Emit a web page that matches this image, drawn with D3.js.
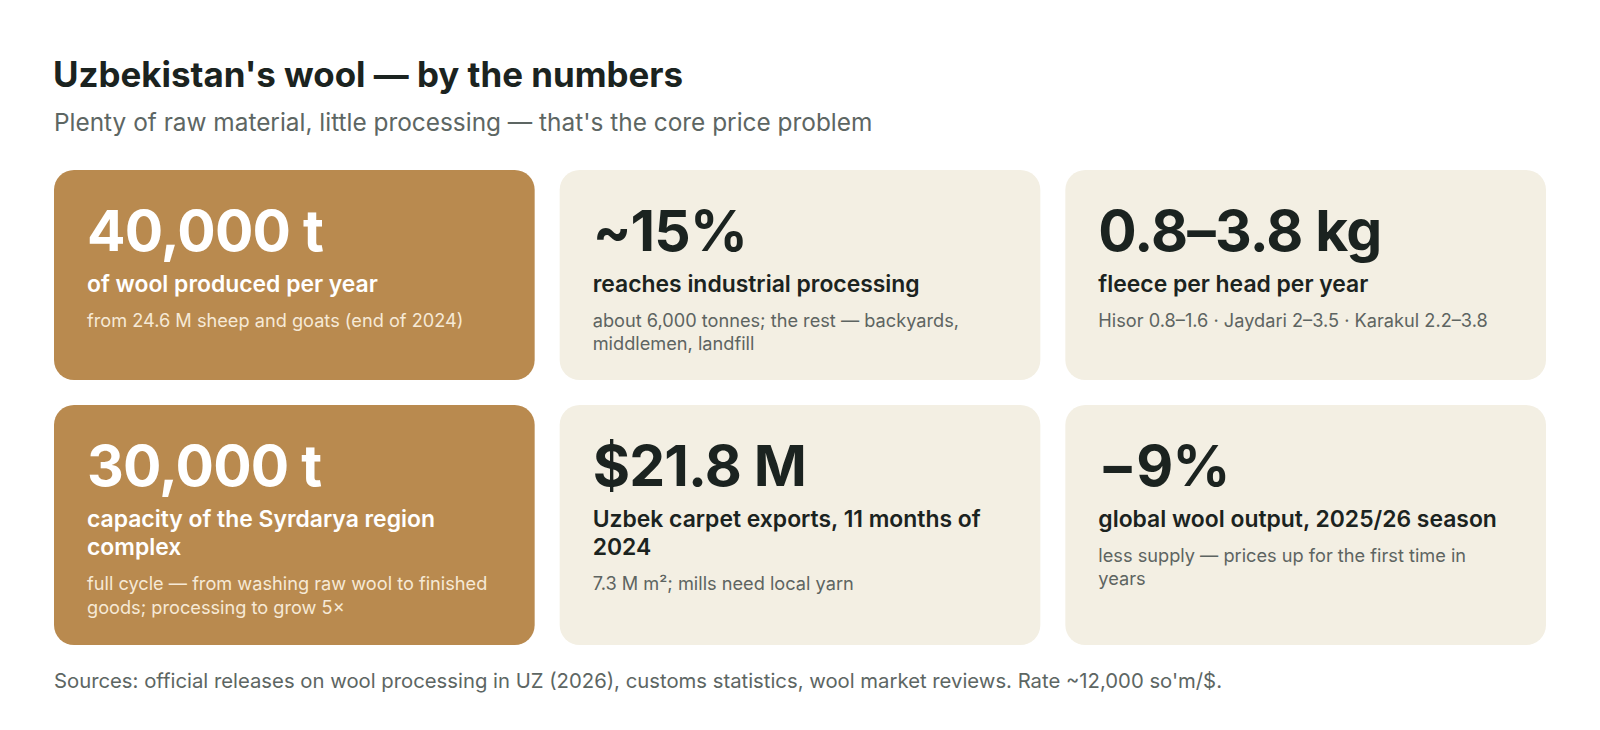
<!DOCTYPE html>
<html>
<head>
<meta charset="utf-8">
<script src="https://cdn.jsdelivr.net/npm/d3@7/dist/d3.min.js"></script>
<style>
  html, body { margin: 0; padding: 0; background: #ffffff; }
  svg { display: block; font-family: Inter, "Noto Sans", sans-serif; }
</style>
</head>
<body>
<svg id="chart" width="1600" height="730"></svg>
<script>
// ---- data ----
const titleText = "Uzbekistan's wool \u2014 by the numbers";
const subtitleText = "Plenty of raw material, little processing \u2014 that's the core price problem";
const footerText = "Sources: official releases on wool processing in UZ (2026), customs statistics, wool market reviews. Rate ~12,000 so'm/$.";

const statValues = ["40,000 t", "~15%", "0.8\u20133.8 kg", "30,000 t", "$21.8 M", "\u22129%"];
const statLabels = [
  "of wool produced per year",
  "reaches industrial processing",
  "fleece per head per year",
  "capacity of the Syrdarya region\ncomplex",
  "Uzbek carpet exports, 11 months of\n2024",
  "global wool output, 2025/26 season"
];
const statNotes = [
  "from 24.6 M sheep and goats (end of 2024)",
  "about 6,000 tonnes; the rest \u2014 backyards,\nmiddlemen, landfill",
  "Hisor 0.8\u20131.6 \u00b7 Jaydari 2\u20133.5 \u00b7 Karakul 2.2\u20133.8",
  "full cycle \u2014 from washing raw wool to finished\ngoods; processing to grow 5\u00d7",
  "7.3 M m\u00b2; mills need local yarn",
  "less supply \u2014 prices up for the first time in\nyears"
];
const statKinds = ["accent", "plain", "plain", "accent", "plain", "plain"];

// ---- layout / style ----
const W = 1600, H = 730;
const marginL = 54, marginR = 54;
const colGap = 25;
const rowTops = [170, 405];
const rowHeights = [210, 240];
const padX = 33;

const palette = {
  accent: { bg: "#b98a4f", value: "#ffffff", label: "#ffffff", note: "#f6e9d6" },
  plain:  { bg: "#f3efe3", value: "#1b2320", label: "#1b2320", note: "#5d6461" }
};

const svg = d3.select("#chart");

const cols = d3.scaleBand()
  .domain([0, 1, 2])
  .range([marginL, W - marginR])
  .paddingInner(colGap / ((W - marginL - marginR + colGap) / 3));

// title & subtitle
svg.append("text")
  .attr("x", marginL - 1).attr("y", 86.5)
  .attr("font-size", 34.9).attr("font-weight", 700)
  .attr("fill", "#1b2320")
  .text(titleText);

svg.append("text")
  .attr("x", marginL).attr("y", 130.5)
  .attr("font-size", 24.4).attr("font-weight", 400)
  .attr("fill", "#5d6663")
  .text(subtitleText);

const cards = statValues.map((v, i) => ({
  value: v,
  label: statLabels[i].split("\n"),
  note: statNotes[i].split("\n"),
  kind: statKinds[i],
  col: i % 3,
  row: Math.floor(i / 3)
}));

const g = svg.selectAll("g.card")
  .data(cards)
  .join("g")
  .attr("class", "card")
  .attr("transform", d => `translate(${cols(d.col)},${rowTops[d.row]})`);

g.append("rect")
  .attr("width", cols.bandwidth())
  .attr("height", d => rowHeights[d.row])
  .attr("rx", 20).attr("ry", 20)
  .attr("fill", d => palette[d.kind].bg);

g.append("text")
  .attr("x", padX).attr("y", 80.5)
  .attr("font-size", 57).attr("font-weight", 700)
  .attr("letter-spacing", "-0.8")
  .attr("fill", d => palette[d.kind].value)
  .text(d => d.value);

const labelLH = 28.5, noteLH = 23.5;

g.each(function(d) {
  const sel = d3.select(this);
  const labelY0 = 121.5;
  const lt = sel.append("text")
    .attr("font-size", 22.9).attr("font-weight", 600)
    .attr("fill", palette[d.kind].label);
  d.label.forEach((line, j) => {
    lt.append("tspan").attr("x", padX).attr("y", labelY0 + j * labelLH).text(line);
  });
  const noteY0 = labelY0 + (d.label.length - 1) * labelLH + 35.3;
  const nt = sel.append("text")
    .attr("font-size", 18.2).attr("font-weight", 400)
    .attr("fill", palette[d.kind].note);
  d.note.forEach((line, j) => {
    nt.append("tspan").attr("x", padX).attr("y", noteY0 + j * noteLH).text(line);
  });
});

svg.append("text")
  .attr("x", marginL).attr("y", 687.5)
  .attr("font-size", 20.3).attr("font-weight", 400)
  .attr("fill", "#5d6663")
  .text(footerText);
</script>
</body>
</html>
